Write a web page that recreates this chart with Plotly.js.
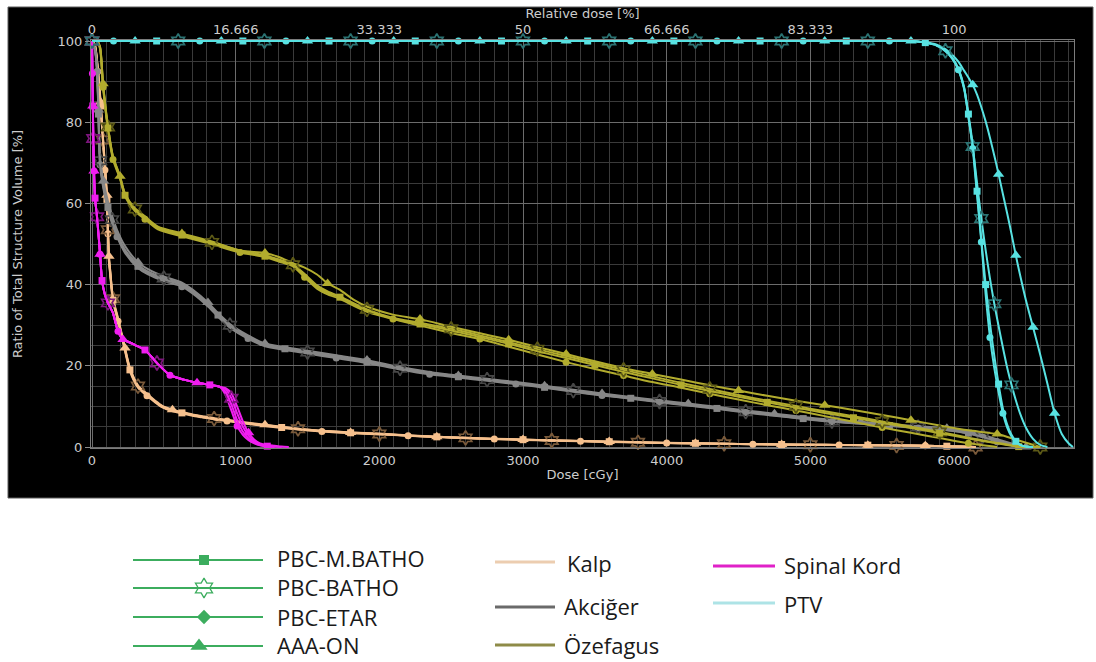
<!DOCTYPE html>
<html>
<head>
<meta charset="utf-8">
<script src="https://cdn.plot.ly/plotly-3.0.1.min.js"></script>
<style>
  html, body { margin: 0; padding: 0; background: #ffffff; }
  #chart { width: 1096px; height: 662px; }
</style>
</head>
<body>
<div id="chart"></div>
<script>
// ---- Cumulative DVH data: dose in cGy, volume in % of structure ----

// Algorithm and structure names
const algoNames = ['PBC-M.BATHO', 'PBC-BATHO', 'PBC-ETAR', 'AAA-ON'];
const structNames = ['Kalp', 'Akciğer', 'Özefagus', 'Spinal Kord', 'PTV'];

// Relative dose axis (100 % = prescription)
const prescriptionDose = 6000;
const relTickVals = [0, 16.666, 33.333, 50, 66.666, 83.333, 100];
const relTickText = ['0', '16.666', '33.333', '50', '66.666', '83.333', '100'];

// Kalp
const kalpDose = [0,20,40,60,77,90,104,111,118,125,146,181,209,230,264,320,383,440,487,560,626,700,766,850,940,1060,1204,1320,1434,1600,1800,2000,2200,2400,2600,2800,3000,3200,3400,3600,3800,4000,4200,4400,4600,4800,5000,5200,5400,5600,5800,5950,6050,6150];
const kalpMBatho = [100,99,93,84,75.4,68.7,61,53,46,43.5,36.2,31.3,27.1,23.9,19.0,14.8,12.8,11.1,9.9,8.9,8.4,7.8,7.4,6.9,6.5,5.9,5.3,4.8,4.4,3.9,3.5,3.2,2.8,2.5,2.2,2.0,1.8,1.6,1.45,1.3,1.15,1.0,0.9,0.8,0.7,0.62,0.55,0.5,0.44,0.38,0.3,0.2,0.1,0];
const kalpBatho = [100,99,93,84.5,75.6,69,61.5,53.5,46.5,44,36.5,31.5,27.3,24.1,19.3,15.0,12.9,11.2,10.0,9.0,8.5,7.9,7.5,7.0,6.6,6.0,5.4,4.9,4.5,4.0,3.6,3.2,2.85,2.5,2.25,2.0,1.8,1.6,1.45,1.3,1.15,1.0,0.9,0.8,0.7,0.62,0.55,0.5,0.44,0.38,0.3,0.2,0.1,0];
const kalpEtar = [100,98.8,92.5,83.5,75,68.2,60.5,52.5,45.5,43,35.8,31.0,26.8,23.6,18.7,14.6,12.6,11.0,9.8,8.8,8.3,7.7,7.3,6.8,6.4,5.8,5.2,4.7,4.3,3.8,3.4,3.1,2.75,2.45,2.15,1.95,1.75,1.55,1.4,1.25,1.1,0.98,0.88,0.78,0.68,0.6,0.53,0.48,0.42,0.36,0.28,0.18,0.08,0];
const kalpAaa = [100,99,93.5,85,76,69.5,62,54,47,44.2,36.8,31.8,27.6,24.4,19.5,15.2,13.1,11.4,10.2,9.2,8.6,8.0,7.6,7.1,6.7,6.1,5.5,5.0,4.5,4.0,3.6,3.3,2.9,2.55,2.3,2.05,1.85,1.65,1.5,1.35,1.2,1.05,0.95,0.82,0.72,0.64,0.57,0.5,0.45,0.4,0.32,0.22,0.12,0];

// Akciğer
const lungDose = [0,20,35,45,56,80,111,140,174,230,320,390,500,626,700,807,877,960,1086,1204,1343,1500,1700,1914,2144,2350,2550,2750,2950,3150,3350,3550,3750,3950,4150,4350,4550,4750,4950,5150,5350,5550,5750,5950,6100,6200,6300,6400,6500];
const lungMBatho = [100,98,93,82,70,64,59,55.5,52.2,48.2,44.5,42.9,41.3,39.9,38.2,35.0,32.5,29.8,27.1,25.1,24.2,23.3,22.2,21.0,19.3,18.1,17.3,16.5,15.7,14.7,13.7,12.8,12.0,11.1,10.3,9.5,8.6,7.8,7.0,6.3,5.8,5.3,4.8,4.2,3.4,2.5,1.4,0.5,0];
const lungBatho = [100,98,93,82.5,70.5,64.5,59.5,56,52.6,48.6,44.9,43.2,41.6,40.1,38.4,35.2,32.7,30.0,27.2,25.2,24.3,23.4,22.3,21.1,19.4,18.3,17.4,16.6,15.8,14.9,13.9,13.0,12.1,11.2,10.4,9.6,8.7,7.9,7.1,6.4,5.9,5.4,4.9,4.3,3.6,2.7,1.6,0.6,0];
const lungEtar = [100,97.8,92.5,81.5,69.5,63.5,58.6,55.0,51.8,47.8,44.1,42.5,40.9,39.5,37.8,34.6,32.1,29.4,26.7,24.8,23.9,23.0,21.9,20.7,19.1,17.9,17.1,16.3,15.5,14.6,13.6,12.7,11.9,11.0,10.2,9.4,8.5,7.7,6.9,6.2,5.7,5.2,4.7,4.1,3.3,2.4,1.3,0.4,0];
const lungAaa = [100,98.2,93.5,83,71.5,65.5,60.5,57,53.5,49.5,45.5,43.8,42.0,40.5,38.8,35.6,33.0,30.3,27.5,25.5,24.6,23.7,22.6,21.4,19.7,18.5,17.6,16.8,16.0,15.1,14.1,13.2,12.3,11.5,10.7,9.9,9.0,8.2,7.4,6.7,6.2,5.6,5.1,4.6,3.9,3.0,1.9,0.9,0];

// Özefagus
const esoDose = [0,35,56,77,111,146,195,230,299,369,459,626,835,1030,1204,1300,1399,1480,1566,1640,1726,1820,1914,2095,2283,2500,2700,2900,3100,3300,3500,3700,3900,4100,4300,4500,4700,4900,5100,5300,5500,5700,5900,6100,6300,6450,6600];
const esoMBatho = [100,100,98.3,89,78.6,71.2,66.3,62,58.4,56.4,53.9,52.2,50.2,48.2,47.0,46.0,44.8,42.3,39.4,38.0,36.9,35.2,33.7,31.6,30.3,28.7,27.1,25.4,23.6,21.9,20.2,18.5,16.9,15.3,13.8,12.4,11.0,9.7,8.4,7.2,6.0,4.7,3.4,2.1,0.9,0.1,0];
const esoBatho = [100,100,98.5,89.3,78.8,71.5,66.6,62.3,58.6,56.6,54.1,52.4,50.4,48.4,47.2,46.2,44.9,42.6,39.8,38.3,37.1,35.4,33.9,31.8,30.6,29.1,27.5,25.8,24.1,22.4,20.7,19.0,17.4,15.8,14.3,12.8,11.4,10.1,8.8,7.6,6.3,5.0,3.7,2.3,1.0,0.2,0];
const esoEtar = [100,100,98,88.6,78.2,70.8,66.0,61.7,58.1,56.1,53.6,51.9,49.9,47.9,46.8,45.7,44.5,41.8,39.0,37.6,36.5,34.8,33.3,31.5,29.9,28.1,26.6,24.7,22.8,20.9,19.2,17.6,16.0,14.6,13.1,11.7,10.3,9.0,7.6,6.2,4.8,3.5,2.2,0.9,0];
const esoAaa = [100,100,98.5,89.5,79,71.6,66.7,62.4,58.8,56.8,54.3,52.6,50.6,48.4,47.8,46.8,45.3,44.2,42.5,40.3,38.7,36.3,34.6,32.6,31.5,29.6,28.0,26.4,24.6,22.9,21.1,19.4,18.0,16.6,15.2,13.9,12.6,11.4,10.3,9.1,7.9,6.6,5.3,4.1,3.2,1.6,0];

// Spinal Kord
const cordDose = [0,3,6,9,14,21,35,56,70,90,111,146,181,216,260,300,369,452,543,640,731,820,891,930,970,1010,1050,1090,1130,1170,1220,1270,1320,1370];
const cordMBatho = [100,92,84,76,68,61.3,56.7,47.5,41,37.5,35.5,33,28.5,26.5,25.8,25.1,23.9,20.7,17.7,16.6,15.8,15.3,14.8,13.6,10.5,6.6,3.8,2.1,1.1,0.5,0.2,0];
const cordBatho = [100,92,84,76,68,61.3,56.7,47.5,41,37.5,35.5,33,28.5,26.5,25.8,25.1,23.9,20.7,17.7,16.6,15.8,15.3,14.8,14.2,12.0,8.3,5.0,2.8,1.4,0.7,0.3,0.1,0];
const cordEtar = [100,92,84,76,68,61.3,56.7,47.5,41,37.5,35.5,33,28.5,26.5,25.8,25.1,23.9,20.7,17.7,16.6,15.8,15.3,14.8,12.8,9.0,5.2,3.0,1.7,0.9,0.4,0.1,0];
const cordAaa = [100,92,84,76,68,61.3,56.7,47.5,41,37.5,35.5,33,28.5,26.5,25.8,25.1,23.9,20.7,17.7,16.6,15.8,15.3,14.8,14.5,13.2,10.0,6.3,3.5,1.8,0.9,0.5,0.3,0.1,0];

// PTV
const ptvDose = [0,150,300,450,600,750,900,1050,1200,1350,1500,1650,1800,1950,2100,2250,2400,2550,2700,2850,3000,3150,3300,3450,3600,3750,3900,4050,4200,4350,4500,4650,4800,4950,5100,5250,5400,5550,5700,5800,5880,5940,5990,6030,6070,6100,6130,6160,6190,6220,6250,6280,6310,6340,6370,6400,6430,6460,6500,6550,6600,6650,6700,6750,6800,6828];
const ptvMBatho = [100,100,100,100,100,100,100,100,100,100,100,100,100,100,100,100,100,100,100,100,100,100,100,100,100,100,100,100,100,100,100,100,100,100,100,100,100,100,100,99.6,98.9,97.6,95.6,93.0,88.5,82.0,74.5,63.0,51.0,40.0,30.5,22.5,15.5,9.5,5.5,3.0,1.4,0.6,0.1,0];
const ptvBatho = [100,100,100,100,100,100,100,100,100,100,100,100,100,100,100,100,100,100,100,100,100,100,100,100,100,100,100,100,100,100,100,100,100,100,100,100,100,100,100,99.6,98.9,97.6,95.7,93.2,88.6,81.2,74.0,65.0,56.3,48.5,41.5,35.3,29.8,24.5,19.5,15.3,11.5,8.2,4.8,2.0,0.5,0];
const ptvEtar = [100,100,100,100,100,100,100,100,100,100,100,100,100,100,100,100,100,100,100,100,100,100,100,100,100,100,100,100,100,100,100,100,100,100,100,100,100,100,100,99.6,98.9,97.5,95.5,92.9,88.2,81.5,73.5,62.0,50.5,37.5,27.0,19.5,13.5,8.3,4.8,2.6,1.2,0.5,0.1,0];
const ptvAaa = [100,100,100,100,100,100,100,100,100,100,100,100,100,100,100,100,100,100,100,100,100,100,100,100,100,100,100,100,100,100,100,100,100,100,100,100,100,100,100,99.7,99.1,98.0,96.5,94.9,92.7,91.0,89.2,86.8,83.7,80.2,76.2,71.8,67.2,62.3,57.5,52.5,47.2,42.3,36.2,29.5,22.7,15.6,8.3,3.2,0.8,0];

// ---- Page geometry (pixels of the 1096 x 662 figure) ----
const W = 1096, H = 662;
const plotPx = { x0: 92, x1: 1073, y100: 41, y0: 447 };   // dose 0 / dose max, 100 % / 0 %
const doseMax = 6828;
const xRange = [-8, doseMax + 8];
const yRange = [-0.3, 100.3];
const kx = (plotPx.x1 - plotPx.x0) / doseMax;
const ky = (plotPx.y0 - plotPx.y100) / 100;
const xDom = [(plotPx.x0 + xRange[0] * kx) / W, (plotPx.x0 + xRange[1] * kx) / W];
const yDom = [(H - (plotPx.y0 - yRange[0] * ky)) / H, (H - (plotPx.y0 - yRange[1] * ky)) / H];

// ---- Styles ----
const structStyle = {
  'Kalp':        { color: '#f6c08d', dark: '#7a5a3a', legend: '#eccdb0' },
  'Akciğer':     { color: '#878787', dark: '#474747', legend: '#6a6a6a' },
  'Özefagus':    { color: '#b2ac2e', dark: '#5c5916', legend: '#8e8b48' },
  'Spinal Kord': { color: '#f01ef0', dark: '#7c167c', legend: '#e021c8' },
  'PTV':         { color: '#58e2e2', dark: '#2b7272', legend: '#ade3e6' }
};
const algoStyle = [
  { symbol: 'square',        size: 7,  phase: 63 },
  { symbol: 'hexagram-open', size: 11, phase: 0, useDark: true },
  { symbol: 'circle',        size: 7,  phase: 21 },
  { symbol: 'triangle-up',   size: 10, phase: 42 }
];
const MARK_GAP = 85;   // on-screen spacing of symbols along a curve, px

// Show a symbol on the data point where the on-screen path length passes each step
function markerOpacity(xs, ys, phase) {
  const n = Math.min(xs.length, ys.length);
  const out = [];
  let s = 0;
  let prevK = Math.floor((-phase - 1e-6) / MARK_GAP);
  for (let i = 0; i < n; i++) {
    if (i > 0) s += Math.hypot((xs[i] - xs[i - 1]) * kx, (ys[i] - ys[i - 1]) * ky);
    const k = Math.floor((s - phase) / MARK_GAP);
    out.push(k > prevK ? 1 : 0);
    prevK = k;
  }
  return out;
}

const structData = [
  { name: 'Kalp',        dose: kalpDose, vols: [kalpMBatho, kalpBatho, kalpEtar, kalpAaa] },
  { name: 'Akciğer',     dose: lungDose, vols: [lungMBatho, lungBatho, lungEtar, lungAaa] },
  { name: 'Özefagus',    dose: esoDose,  vols: [esoMBatho, esoBatho, esoEtar, esoAaa] },
  { name: 'Spinal Kord', dose: cordDose, vols: [cordMBatho, cordBatho, cordEtar, cordAaa] },
  { name: 'PTV',         dose: ptvDose,  vols: [ptvMBatho, ptvBatho, ptvEtar, ptvAaa] }
];

const traces = [];
structData.forEach(sd => {
  const st = structStyle[sd.name];
  [3, 2, 1, 0].forEach(a => {
    const al = algoStyle[a];
    const y = sd.vols[a];
    traces.push({
      type: 'scatter', mode: 'lines+markers',
      name: sd.name + ' ' + algoNames[a],
      x: sd.dose, y: y,
      xaxis: 'x', yaxis: 'y',
      line: { color: st.color, width: 2, shape: 'spline', smoothing: 0.7 },
      marker: {
        symbol: al.symbol, size: al.size,
        color: al.useDark ? st.dark : st.color,
        opacity: markerOpacity(sd.dose, y, al.phase),
        line: { width: al.useDark ? 1.7 : 0, color: st.dark }
      },
      cliponaxis: false, showlegend: false, hoverinfo: 'skip'
    });
  });
});

// Relative-dose scale shares the dose axis extent
traces.push({
  type: 'scatter', mode: 'none', x: [relTickVals[0], relTickVals[relTickVals.length - 1]], y: [null, null],
  xaxis: 'x2', yaxis: 'y', showlegend: false, hoverinfo: 'skip'
});

// ---- Legend drawn in its own pixel-scaled panel below the chart ----
const legendGreen = '#3cad5e';
const algoLegend = {
  rows: [560, 588, 617, 646], lineX: [133, 263], markX: [204, 204, 204, 199],
  textX: 275, textY: [558, 587, 617, 645],
  symbols: ['square', 'hexagram-open', 'diamond', 'triangle-up'], sizes: [10, 15, 11, 15]
};
const structLegend = {
  lineX: [[495, 555], [495, 555], [495, 555], [713, 775], [713, 775]],
  rows: [562, 607, 645, 566, 603],
  textX: [565, 562, 562, 782, 782],
  textY: [563, 606, 645, 565, 604]
};
const annotations = [];
algoNames.forEach((nm, i) => {
  traces.push({
    type: 'scatter', mode: 'lines+markers', xaxis: 'x3', yaxis: 'y3',
    x: [algoLegend.lineX[0], algoLegend.markX[i], algoLegend.lineX[1]],
    y: [algoLegend.rows[i], algoLegend.rows[i], algoLegend.rows[i]],
    line: { color: legendGreen, width: 2 },
    marker: { symbol: algoLegend.symbols[i], size: algoLegend.sizes[i], color: legendGreen,
              opacity: [0, 1, 0], line: { width: i === 1 ? 1.3 : 0, color: legendGreen } },
    showlegend: false, hoverinfo: 'skip'
  });
  annotations.push({ xref: 'x3', yref: 'y3', x: algoLegend.textX, y: algoLegend.textY[i], text: nm,
    showarrow: false, xanchor: 'left', yanchor: 'middle',
    font: { family: 'Open Sans, sans-serif', size: 22, color: '#1a1a1a' } });
});
structNames.forEach((nm, i) => {
  traces.push({
    type: 'scatter', mode: 'lines', xaxis: 'x3', yaxis: 'y3',
    x: structLegend.lineX[i], y: [structLegend.rows[i], structLegend.rows[i]],
    line: { color: structStyle[nm].legend, width: 3 },
    showlegend: false, hoverinfo: 'skip'
  });
  annotations.push({ xref: 'x3', yref: 'y3', x: structLegend.textX[i], y: structLegend.textY[i], text: nm,
    showarrow: false, xanchor: 'left', yanchor: 'middle',
    font: { family: 'Open Sans, sans-serif', size: 22, color: '#1a1a1a' } });
});

// ---- Axes ----
const axisFont = { family: 'DejaVu Sans, Verdana, sans-serif', size: 13, color: '#cdcdcd' };

const layout = {
  width: W, height: H,
  margin: { l: 0, r: 0, t: 0, b: 0 },
  paper_bgcolor: '#ffffff',
  plot_bgcolor: 'rgba(0,0,0,0)',
  showlegend: false,
  hovermode: false,
  xaxis: {
    domain: xDom, anchor: 'y', range: xRange,
    tick0: 0, dtick: 1000, ticks: '', showticklabels: true,
    tickfont: axisFont,
    showgrid: true, gridcolor: '#6c6c6c', gridwidth: 1,
    minor: { dtick: 100, tick0: 0, showgrid: true, gridcolor: '#3a3a3a', gridwidth: 1 },
    zeroline: false, showline: true, mirror: true, linecolor: '#7c7c7c', linewidth: 1,
    title: { text: 'Dose [cGy]', font: axisFont, standoff: 3 }
  },
  xaxis2: {
    overlaying: 'x', side: 'top', anchor: 'y',
    range: [xRange[0] / prescriptionDose * 100, xRange[1] / prescriptionDose * 100],
    tickmode: 'array', tickvals: relTickVals, ticktext: relTickText,
    ticks: '', ticklabelstandoff: 2, tickfont: axisFont, showgrid: false, zeroline: false, showline: false,
    title: { text: 'Relative dose [%]', font: axisFont, standoff: 0 }
  },
  yaxis: {
    domain: yDom, anchor: 'x', range: yRange,
    tick0: 0, dtick: 20, ticks: 'outside', ticklen: 5, tickcolor: '#8a8a8a',
    tickfont: axisFont,
    showgrid: true, gridcolor: '#6c6c6c', gridwidth: 1,
    minor: { dtick: 5, tick0: 0, showgrid: true, gridcolor: '#3a3a3a', gridwidth: 1 },
    zeroline: false, showline: true, mirror: true, linecolor: '#7c7c7c', linewidth: 1,
    title: { text: 'Ratio of Total Structure Volume [%]', font: axisFont, standoff: 31 }
  },
  xaxis3: { domain: [0, 1], anchor: 'y3', range: [0, W], visible: false, fixedrange: true },
  yaxis3: { domain: [0, 164 / H], anchor: 'x3', range: [H, 498], visible: false, fixedrange: true },
  shapes: [{
    type: 'rect', xref: 'paper', yref: 'paper', layer: 'below',
    x0: 8 / W, x1: 1093 / W, y0: (H - 498) / H, y1: (H - 7) / H,
    fillcolor: '#000000', line: { color: '#5c5c5c', width: 1 }
  }],
  annotations: annotations
};

Plotly.newPlot('chart', traces, layout, { staticPlot: true, displayModeBar: false });
</script>
</body>
</html>
